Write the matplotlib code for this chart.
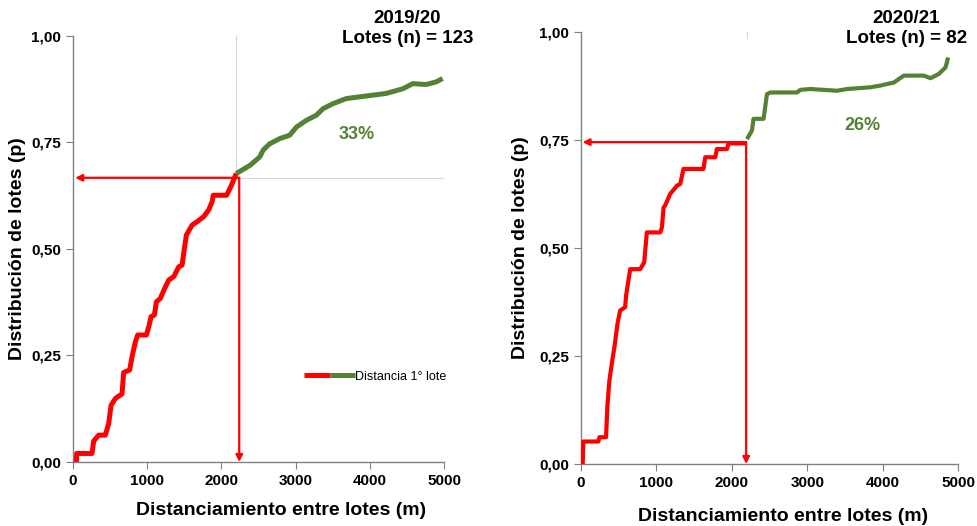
import numpy as np
import matplotlib
matplotlib.use('Agg')
import matplotlib.pyplot as plt
from matplotlib.ticker import FuncFormatter
from matplotlib.legend_handler import HandlerTuple

plt.rcParams['font.family'] = ['Liberation Sans', 'DejaVu Sans']

# 2019/20 - distancia al 1er lote (m) vs distribución acumulada
x19_rojo = [45, 50, 256, 279, 346, 436, 481, 513, 571, 661, 683, 764, 796, 841, 872, 989,
            1021, 1052, 1097, 1124, 1178, 1232, 1290, 1358, 1425, 1470, 1502, 1529, 1605,
            1673, 1763, 1830, 1875, 1890, 2070, 2137, 2200]
p19_rojo = [0, 0.02, 0.02, 0.049, 0.063, 0.063, 0.09, 0.133, 0.149, 0.16, 0.21, 0.216, 0.247,
            0.282, 0.298, 0.298, 0.317, 0.341, 0.345, 0.376, 0.384, 0.406, 0.427, 0.435, 0.458,
            0.462, 0.502, 0.533, 0.556, 0.564, 0.576, 0.592, 0.611, 0.626, 0.626, 0.65, 0.677]
x19_verde = [2200, 2383, 2517, 2562, 2652, 2786, 2920, 3011, 3145, 3280, 3368, 3503, 3683,
             3952, 4220, 4445, 4579, 4758, 4892, 4981]
p19_verde = [0.677, 0.696, 0.716, 0.732, 0.747, 0.759, 0.767, 0.786, 0.802, 0.814, 0.829,
             0.841, 0.853, 0.859, 0.865, 0.876, 0.888, 0.886, 0.892, 0.9]

# 2020/21
x20_rojo = [22, 31, 230, 244, 332, 350, 376, 421, 443, 483, 518, 585, 598, 652, 785, 838, 873,
            1051, 1073, 1095, 1115, 1182, 1271, 1315, 1359, 1624, 1647, 1780, 1802, 1935,
            1957, 2190]
p20_rojo = [0, 0.052, 0.052, 0.062, 0.062, 0.135, 0.193, 0.247, 0.27, 0.324, 0.355, 0.363,
            0.39, 0.451, 0.451, 0.467, 0.536, 0.536, 0.548, 0.594, 0.598, 0.625, 0.644, 0.648,
            0.683, 0.683, 0.71, 0.71, 0.729, 0.729, 0.742, 0.742]
x20_verde = [2200, 2267, 2288, 2421, 2466, 2510, 2864, 2908, 3041, 3395, 3528, 3838, 3971,
             4148, 4281, 4547, 4635, 4746, 4834, 4869]
p20_verde = [0.752, 0.772, 0.799, 0.799, 0.856, 0.86, 0.86, 0.866, 0.868, 0.864, 0.868, 0.872,
             0.876, 0.883, 0.899, 0.899, 0.893, 0.903, 0.918, 0.941]

# umbral (m) y proporción acumulada en el umbral
umbral19, corte19 = 2240, 0.667
umbral20, corte20 = 2190, 0.745
titulos = ['2019/20\nLotes (n) = 123', '2020/21\nLotes (n) = 82']
porcentajes = ['33%', '26%']

ROJO = '#ff0000'
VERDE = '#548235'
GRIS = '#808080'

fig = plt.figure(figsize=(9.77, 5.26), dpi=100)
ax1 = fig.add_axes([0.0747, 0.1217, 0.3798, 0.81])
ax2 = fig.add_axes([0.5947, 0.1179, 0.3859, 0.8213])

coma = FuncFormatter(lambda v, pos: f'{v:.2f}'.replace('.', ','))


def estilo(ax, xlab_x, xlab_y, ylab_x):
    ax.set_xlim(0, 5000)
    ax.set_ylim(0, 1)
    ax.set_xticks(np.arange(0, 5001, 1000))
    ax.set_yticks([0, 0.25, 0.5, 0.75, 1.0])
    ax.yaxis.set_major_formatter(coma)
    for s in ['top', 'right']:
        ax.spines[s].set_visible(False)
    for s in ['left', 'bottom']:
        ax.spines[s].set_color(GRIS)
        ax.spines[s].set_linewidth(1.0)
    ax.tick_params(direction='out', length=5, color=GRIS, labelsize=11)
    for lab in ax.get_xticklabels() + ax.get_yticklabels():
        lab.set_fontweight('bold')
    ax.set_xlabel('Distanciamiento entre lotes (m)', fontsize=14, fontweight='bold')
    ax.set_ylabel('Distribución de lotes (p)', fontsize=14, fontweight='bold')
    ax.xaxis.set_label_coords(xlab_x, xlab_y)
    ax.yaxis.set_label_coords(ylab_x, 0.5)


def flecha(ax, desde, hasta):
    ax.annotate('', xy=hasta, xytext=desde,
                arrowprops=dict(arrowstyle='-|>', color=ROJO, lw=1.6, mutation_scale=10,
                                shrinkA=0, shrinkB=0))


# --- panel izquierdo
estilo(ax1, 0.562, -0.094, -0.127)
ax1.plot([umbral19 - 45, umbral19 - 45], [corte19, 1], color='#d9d9d9', lw=0.8, zorder=1)
ax1.plot([umbral19 - 45, 5000], [corte19, corte19], color='#d9d9d9', lw=0.8, zorder=1)
l_r, = ax1.plot(x19_rojo, p19_rojo, color=ROJO, lw=3.6, solid_capstyle='butt', zorder=3)
l_v, = ax1.plot(x19_verde, p19_verde, color=VERDE, lw=3.6, solid_capstyle='butt', zorder=3)
flecha(ax1, (umbral19, corte19), (30, corte19))
flecha(ax1, (umbral19, corte19), (umbral19, 0.0))
ax1.text(3820, 0.768, porcentajes[0], color=VERDE, fontsize=13, fontweight='bold',
         ha='center', va='center')
ax1.legend([(l_r, l_v)], ['Distancia 1° lote'], handler_map={tuple: HandlerTuple(ndivide=None, pad=0)},
           frameon=False, fontsize=9, handlelength=4.1, handletextpad=0,
           loc='center left', bbox_to_anchor=(0.592, 0.2))
fig.text(473 / 977, 1 - 10 / 526, titulos[0], ha='right', va='top', fontsize=13.5,
         fontweight='bold', multialignment='center', linespacing=1.2)

# --- panel derecho
estilo(ax2, 0.536, -0.102, -0.138)
ax2.plot([umbral20 + 10, umbral20 + 10], [0.985, 1], color='#d9d9d9', lw=0.8, zorder=1)
ax2.plot(x20_rojo, p20_rojo, color=ROJO, lw=3.0, solid_capstyle='butt', zorder=3)
ax2.plot(x20_verde, p20_verde, color=VERDE, lw=3.0, solid_capstyle='butt', zorder=3)
flecha(ax2, (umbral20, corte20), (20, corte20))
flecha(ax2, (umbral20, corte20), (umbral20, 0.0))
ax2.text(3732, 0.783, porcentajes[1], color=VERDE, fontsize=13, fontweight='bold',
         ha='center', va='center')
fig.text(967 / 977, 1 - 10 / 526, titulos[1], ha='right', va='top', fontsize=13.5,
         fontweight='bold', multialignment='center', linespacing=1.2)

plt.savefig('out.png', dpi=100)
